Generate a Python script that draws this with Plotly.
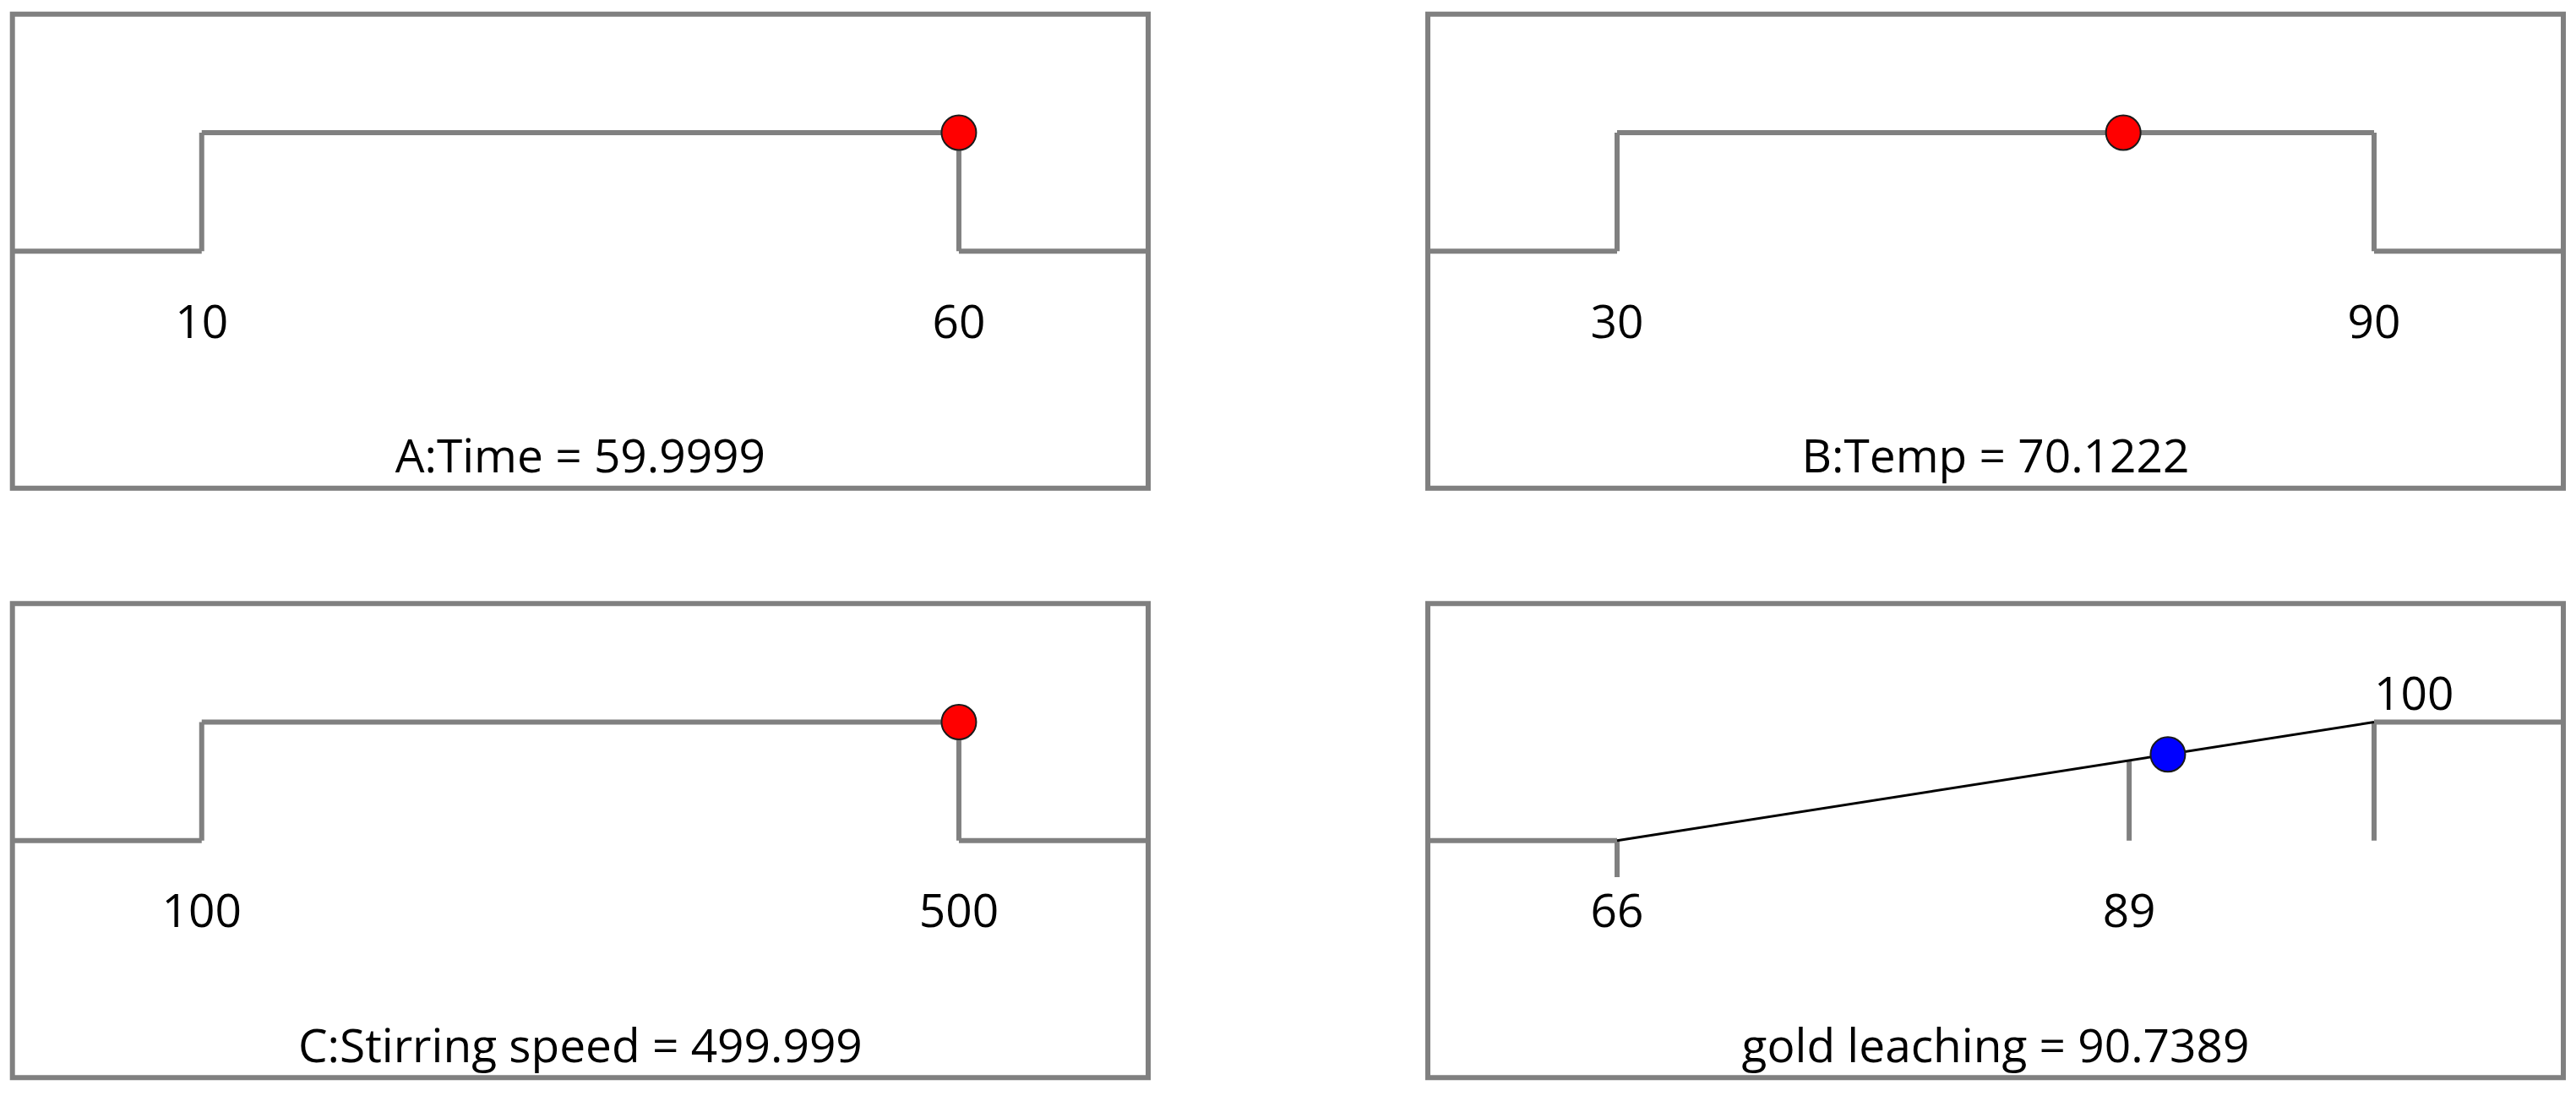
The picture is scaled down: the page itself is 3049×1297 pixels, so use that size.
import plotly.graph_objects as go

# Factor settings (desirability ramps)
factor_names = ["A:Time", "B:Temp", "C:Stirring speed"]
factor_low = [10, 30, 100]
factor_high = [60, 90, 500]
factor_values = [59.9999, 70.1222, 499.999]
factor_value_labels = ["59.9999", "70.1222", "499.999"]

# Response (maximise)
response_name = "gold leaching"
response_low = 66
response_high = 100
response_target = 89
response_value = 90.7389
response_value_label = "90.7389"

GRAY = "#808080"
FONT = "Open Sans"
FONT_SIZE = 55
LOW_Y = 0.5
HIGH_Y = 0.75

# figure size (page body has an 8px margin)
PAGE_OFF = 8
FIG_W = 3049 - 2 * PAGE_OFF
FIG_H = 1297 - 2 * PAGE_OFF


def x_dom(a, b):
    return [(a - PAGE_OFF) / FIG_W, (b - PAGE_OFF) / FIG_W]


def y_dom(top, bottom):
    return [1 - (bottom - PAGE_OFF) / FIG_H, 1 - (top - PAGE_OFF) / FIG_H]


# panel frames in page pixels
col_domains = [x_dom(14.7, 1359), x_dom(1690, 3034)]
row_domains = [y_dom(16.7, 577.7), y_dom(714.3, 1275.3)]


def axis_range(lo, hi):
    pad = (hi - lo) / 4
    return [lo - pad, hi + pad]


def add_segments(fig, xs, ys, width, color, ax):
    fig.add_trace(go.Scatter(x=xs, y=ys, mode="lines",
                             line=dict(color=color, width=width),
                             xaxis="x" + ax, yaxis="y" + ax,
                             hoverinfo="skip", showlegend=False))


def add_text(fig, xs, ys, texts, ax, position="middle center"):
    fig.add_trace(go.Scatter(x=xs, y=ys, mode="text", text=texts,
                             textposition=position,
                             textfont=dict(family=FONT, size=FONT_SIZE, color="black"),
                             xaxis="x" + ax, yaxis="y" + ax,
                             hoverinfo="skip", showlegend=False, cliponaxis=False))


def add_marker(fig, x, y, color, ax):
    fig.add_trace(go.Scatter(x=[x], y=[y], mode="markers",
                             marker=dict(color=color, size=41,
                                         line=dict(color="#1a1a1a", width=2)),
                             xaxis="x" + ax, yaxis="y" + ax,
                             hoverinfo="skip", showlegend=False))


def add_factor_panel(fig, i, ax):
    lo, hi = factor_low[i], factor_high[i]
    r0, r1 = axis_range(lo, hi)
    # horizontal parts
    add_segments(fig, [r0, lo, None, lo, hi, None, hi, r1],
                 [LOW_Y, LOW_Y, None, HIGH_Y, HIGH_Y, None, LOW_Y, LOW_Y], 6, GRAY, ax)
    # vertical steps
    add_segments(fig, [lo, lo, None, hi, hi],
                 [LOW_Y, HIGH_Y, None, HIGH_Y, LOW_Y], 6, GRAY, ax)
    add_text(fig, [lo, hi], [0.342, 0.342], [str(lo), str(hi)], ax)
    add_text(fig, [(r0 + r1) / 2], [0.057],
             ["{} = {}".format(factor_names[i], factor_value_labels[i])], ax)
    add_marker(fig, factor_values[i], HIGH_Y, "red", ax)
    return [r0, r1]


def ramp(v):
    return LOW_Y + (HIGH_Y - LOW_Y) * (v - response_low) / (response_high - response_low)


def add_response_panel(fig, ax):
    lo, hi = response_low, response_high
    r0, r1 = axis_range(lo, hi)
    add_segments(fig, [r0, lo, None, hi, r1], [LOW_Y, LOW_Y, None, HIGH_Y, HIGH_Y], 6, GRAY, ax)
    add_segments(fig, [lo, lo, None, response_target, response_target, None, hi, hi],
                 [LOW_Y, LOW_Y - 0.077, None, LOW_Y, ramp(response_target), None, LOW_Y, HIGH_Y],
                 6, GRAY, ax)
    add_segments(fig, [lo, hi], [LOW_Y, HIGH_Y], 3, "black", ax)
    add_text(fig, [lo, response_target], [0.342, 0.342], [str(lo), str(response_target)], ax)
    add_text(fig, [hi], [0.80], [str(hi)], ax, position="middle right")
    add_text(fig, [(r0 + r1) / 2], [0.057],
             ["{} = {}".format(response_name, response_value_label)], ax)
    add_marker(fig, response_value, ramp(response_value), "blue", ax)
    return [r0, r1]


fig = go.Figure()

layout = {}
shapes = []
panels = [(0, 0), (0, 1), (1, 0), (1, 1)]
for k, (row, col) in enumerate(panels):
    ax = "" if k == 0 else str(k + 1)
    if k < 3:
        xr = add_factor_panel(fig, k, ax)
    else:
        xr = add_response_panel(fig, ax)
    layout["xaxis" + ax] = dict(domain=col_domains[col], range=xr, visible=False,
                                anchor="y" + ax)
    layout["yaxis" + ax] = dict(domain=row_domains[row], range=[0, 1], visible=False,
                                anchor="x" + ax)
    # panel frame
    shapes.append(dict(type="rect", xref="x" + ax + " domain", yref="y" + ax + " domain",
                       x0=0, x1=1, y0=0, y1=1, line=dict(color=GRAY, width=6)))

fig.update_layout(**layout)
fig.update_layout(width=FIG_W, height=FIG_H,
                  margin=dict(l=0, r=0, t=0, b=0),
                  plot_bgcolor="white", paper_bgcolor="white",
                  shapes=shapes, showlegend=False)

fig.write_html("out.html")
